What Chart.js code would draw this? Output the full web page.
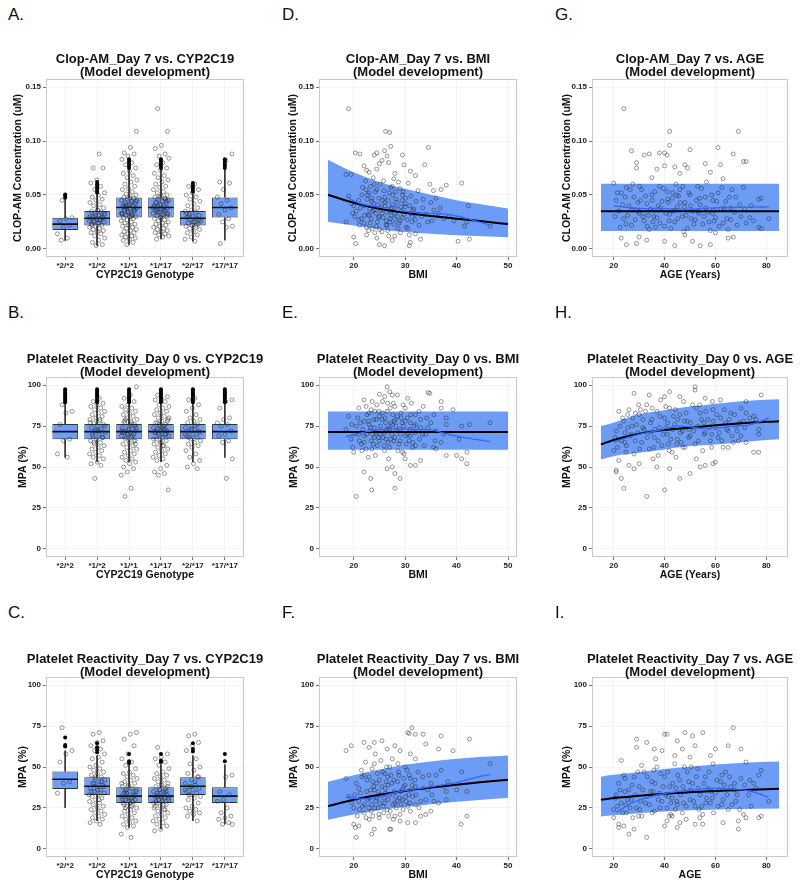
<!DOCTYPE html>
<html>
<head>
<meta charset="utf-8">
<script src="https://cdn.jsdelivr.net/npm/chart.js@4.4.0/dist/chart.umd.min.js"></script>
<style>
  body { margin: 0; background: #fff; width: 800px; height: 889px; position: relative; overflow: hidden;
         font-family: "Liberation Sans", Arial, sans-serif; }
  canvas { position: absolute; }
  .lbl { position: absolute; font-size: 17px; line-height: 17px; color: #111; }
  .ttl { position: absolute; width: 300px; text-align: center; font-weight: bold; font-size: 13px; line-height: 13px; color: #111; }
</style>
</head>
<body>
<script>
// --- Categorias y ticks ---
const genotypes = ['*2/*2', '*1/*2', '*1/*1', '*1/*17', '*2/*17', '*17/*17'];
const clopTicks = [0, 0.05, 0.10, 0.15];
const mpaTicks = [0, 25, 50, 75, 100];
const bmiTicks = [20, 30, 40, 50];
const ageTicks = [20, 40, 60, 80];

// --- A. Clop-AM vs CYP2C19 (cajas) ---
const clopQ1 = [0.0176, 0.0216, 0.0290, 0.0290, 0.0216, 0.0290];
const clopMed = [0.0230, 0.0284, 0.0384, 0.0384, 0.0284, 0.0384];
const clopQ3 = [0.0288, 0.0352, 0.0477, 0.0477, 0.0352, 0.0477];
const clopLo = [0.0075, 0.003, 0.004, 0.009, 0.007, 0.008];
const clopHi = [0.046, 0.051, 0.074, 0.074, 0.051, 0.074];
const clopOut = [
  [0.0505, 0.049, 0.0475],
  [0.062, 0.060, 0.058, 0.056, 0.054, 0.052],
  [0.083, 0.081, 0.079, 0.077, 0.075],
  [0.083, 0.081, 0.079, 0.077, 0.075],
  [0.061, 0.059, 0.057, 0.055, 0.053],
  [0.083, 0.081, 0.079, 0.077, 0.075]
];
const clopJit = [
  [.045, .029, .028, .026, .022, .020, .014, .010, .008],
  [.088, .075, .075, .064, .061, .058, .055, .052, .050, .048, .046, .045, .043, .041, .040, .038, .036, .035, .034, .033, .032, .031, .030, .029, .028, .028, .027, .026, .025, .024, .023, .022, .021, .020, .019, .018, .017, .016, .015, .014, .012, .010, .008, .006, .004, .003,
   .030, .027, .025, .033, .036, .022, .029, .031, .026, .024],
  [.109, .094, .089, .088, .086, .083, .080, .078, .075, .072, .070, .068, .066, .064, .062, .060, .058, .056, .055, .053, .051, .050, .049, .048, .047, .046, .045, .044, .043, .042, .041, .040, .040, .039, .038, .037, .036, .035, .034, .033, .032, .031, .030, .030, .029, .028, .027, .026, .025, .024, .023, .022, .021, .020, .019, .018, .017, .016, .015, .014, .013, .012, .011, .010, .009, .008, .006, .004,
   .045, .042, .038, .036, .034, .032, .031, .041, .044, .047, .039, .037, .035, .033, .030],
  [.130, .109, .096, .093, .088, .086, .084, .080, .078, .075, .073, .070, .068, .066, .064, .062, .060, .058, .057, .055, .053, .052, .050, .049, .048, .047, .046, .045, .044, .043, .042, .041, .040, .039, .039, .038, .037, .036, .035, .034, .033, .032, .031, .030, .029, .028, .027, .026, .025, .024, .023, .022, .021, .020, .019, .018, .017, .016, .015, .014, .013, .012, .011, .009,
   .044, .041, .039, .036, .034, .032, .031, .043, .046, .048, .038, .037, .035, .033, .029],
  [.060, .058, .055, .052, .050, .048, .046, .044, .042, .040, .038, .036, .035, .034, .032, .031, .030, .029, .028, .027, .026, .025, .024, .023, .022, .021, .020, .019, .018, .016, .015, .013, .011, .009, .007,
   .030, .027, .025, .033, .022],
  [.088, .082, .062, .061, .055, .048, .045, .042, .038, .036, .032, .028, .025, .021, .020, .005]
];

// --- B. MPA dia 0 vs CYP2C19 ---
const mpa0Q1 = [66.9, 66.9, 66.9, 66.9, 66.9, 66.9];
const mpa0Med = [71.6, 71.6, 71.6, 71.6, 71.6, 71.6];
const mpa0Q3 = [76.3, 76.3, 76.3, 76.3, 76.3, 76.3];
const mpa0Lo = [55.8, 53, 53, 53, 53, 55.8];
const mpa0Hi = [88.5, 88.5, 88.5, 88.5, 88.5, 88.5];
const mpa0OutVals = [97.5, 96.5, 95.5, 94.5, 93.5, 92.5, 91.5, 90.5, 89.5];
const mpa0Jit = [
  [88, 84, 83, 76, 67, 66, 58, 56],
  [92, 90, 89, 88, 87, 86, 85, 84, 83, 82, 81, 80, 79, 78, 77, 76, 75, 74, 73, 72, 71, 70, 69, 68, 67, 66, 65, 64, 63, 62, 61, 60, 59, 58, 57, 56, 55, 53, 52, 51, 43,
   75, 72, 70, 68, 73, 77, 79, 65],
  [99, 94, 92, 90, 88, 87, 86, 85, 84, 83, 82, 81, 80, 79, 78, 77, 76, 75, 74, 73, 72, 72, 71, 71, 70, 70, 69, 68, 67, 66, 65, 64, 63, 62, 61, 60, 59, 58, 57, 56, 55, 54, 53, 52, 50, 49, 47, 45, 37, 32,
   75, 73, 71, 69, 68, 74, 76, 78, 66, 70, 72, 77, 79, 64],
  [94, 93, 92, 91, 90, 88, 87, 86, 85, 84, 83, 82, 81, 80, 79, 78, 77, 76, 75, 74, 73, 73, 72, 72, 71, 70, 70, 69, 68, 67, 66, 65, 64, 63, 62, 61, 60, 59, 58, 57, 56, 55, 54, 51, 49, 47, 46, 45, 36,
   74, 72, 70, 69, 67, 75, 77, 78, 65, 71, 73, 76, 80, 63],
  [92, 91, 88, 86, 84, 82, 80, 79, 78, 77, 76, 75, 74, 73, 72, 71, 70, 69, 68, 67, 66, 65, 64, 63, 62, 60, 58, 56, 54, 52, 50, 49,
   73, 70, 75, 68, 72],
  [91, 90, 86, 80, 79, 77, 76, 75, 72, 70, 69, 66, 65, 55, 43]
];

// --- C. MPA dia 7 vs CYP2C19 ---
const mpa7Q1 = [36.6, 32.9, 28.0, 28.0, 32.9, 28.0];
const mpa7Med = [42.5, 38.2, 32.2, 32.2, 38.2, 32.2];
const mpa7Q3 = [47.3, 43.7, 37.6, 37.6, 43.7, 37.6];
const mpa7Lo = [25, 17, 13, 12, 17, 15];
const mpa7Hi = [60, 57, 51.5, 51.5, 57, 51.5];
const mpa7Out = [
  [68, 63.5, 62.5],
  [64.5, 62, 60.5, 59],
  [58, 53.5, 52.5],
  [58, 54, 53],
  [64.5, 61, 59.5],
  [58, 53.5]
];
const mpa7Jit = [
  [74, 60, 58, 53, 41, 40, 34],
  [71, 70, 66, 65, 63, 61, 60, 58, 56, 55, 53, 51, 50, 49, 48, 47, 46, 45, 44, 43, 42, 41, 40, 39, 38, 37, 36, 35, 34, 33, 32, 31, 30, 29, 28, 27, 26, 25, 24, 23, 22, 21, 20, 19, 18, 17, 16, 15,
   40, 38, 36, 35, 41, 44, 33, 30],
  [71, 70, 67, 63, 58, 55, 53, 51, 49, 47, 46, 45, 44, 43, 42, 41, 40, 39, 38, 37, 36, 35, 35, 34, 33, 32, 32, 31, 30, 30, 29, 28, 27, 26, 25, 24, 23, 22, 21, 20, 19, 18, 17, 16, 15, 14, 13, 9, 7,
   35, 33, 31, 30, 29, 34, 36, 28, 27, 32, 38, 40, 26, 25],
  [62, 58, 56, 55, 53, 51, 49, 47, 46, 45, 44, 43, 42, 41, 40, 39, 38, 37, 36, 35, 35, 34, 33, 32, 32, 31, 30, 30, 29, 28, 27, 26, 25, 24, 23, 22, 21, 20, 19, 18, 17, 16, 15, 14, 12, 11,
   34, 33, 31, 30, 29, 35, 36, 28, 27, 32, 38, 39, 26, 24],
  [70, 69, 65, 63, 60, 55, 52, 50, 48, 46, 44, 42, 40, 39, 38, 37, 36, 35, 34, 33, 32, 31, 30, 28, 26, 25, 24, 23, 22, 21, 20, 17,
   38, 36, 41, 33, 44],
  [45, 44, 35, 33, 30, 29, 25, 22, 20, 19, 18, 16, 15, 15]
];

// --- D. Clop-AM vs BMI ---
const ptsD = [
  [19, .130], [26.2, .109], [27, .108], [27.2, .095], [26, .091], [24.5, .089], [24, .087], [20.3, .089], [21.2, .088], [29.5, .087], [34.5, .094],
  [25.5, .082], [26.5, .086], [25, .079], [26.8, .080], [22, .077], [22.5, .073], [29.8, .078], [33.8, .078], [31, .072], [28, .070], [32, .068], [23, .071], [24.5, .074], [19.5, .069], [18.5, .069],
  [41, .061], [42.3, .040], [40.3, .007], [42.5, .009], [46.5, .021], [38, .059], [37, .055], [36, .047], [39.5, .026], [41.5, .021], [42, .025], [36.5, .033], [38.5, .030], [35.5, .054], [34.8, .060],
  [20.4, .005], [25, .004], [26, .003], [30.8, .003], [31, .006], [27.5, .008], [22.5, .013], [24.5, .010], [20, .011], [33, .009], [28, .012], [32, .014],
  [21, .045], [22, .040], [23, .052], [24, .036], [25, .030], [26, .048], [27, .025], [28, .038], [29, .056], [30, .042], [31, .033], [32, .027],
  [21.5, .028], [22.5, .020], [23.5, .044], [24.5, .055], [25.5, .033], [26.5, .022], [27.5, .041], [28.5, .030], [29.5, .050], [30.5, .019], [31.5, .036],
  [20.5, .035], [22, .024], [23, .031], [24, .060], [25, .018], [26, .043], [27, .035], [28, .028], [29, .026], [30, .039],
  [23.5, .047], [25.5, .016], [27.5, .058], [29.5, .029], [33.5, .046], [34, .032], [35, .043], [18.5, .025], [19, .049], [20, .040], [21, .027], [22.8, .032], [26.3, .022], [28.7, .062], [30.2, .020], [31.7, .037], [24.2, .053],
  [22.3, .063], [23.8, .066], [25.8, .063], [27.8, .065], [30.6, .061], [32.5, .054], [21.7, .057], [26.9, .052], [24.7, .041], [28.2, .046], [23.2, .024], [25.3, .039], [27.3, .031], [29.3, .035], [31.3, .025], [33.2, .030], [35.2, .026], [36.8, .038], [19.8, .033], [22.7, .050],
  [21.3, .038], [22.1, .031], [22.6, .046], [23.1, .037], [23.4, .028], [23.9, .042], [24.3, .033], [24.6, .025], [24.9, .047], [25.2, .036], [25.7, .029], [26.1, .040], [26.4, .034], [26.7, .045], [27.1, .028], [27.4, .038], [27.9, .033], [28.4, .043], [28.8, .024], [29.2, .039], [29.7, .032], [30.1, .047], [30.4, .027], [30.9, .040], [31.4, .030], [32.1, .044], [32.7, .022], [33.4, .038],
  [21.6, .050], [22.4, .055], [23.6, .019], [24.4, .021], [25.9, .054], [26.6, .017], [27.6, .050], [28.6, .019], [29.6, .053], [31.1, .049], [21.1, .022], [20.2, .030], [19.6, .042], [34.4, .025], [35.6, .036], [37.5, .028],
  [23.3, .058], [25.1, .060], [27.2, .057], [29.1, .015], [26.8, .012], [24.1, .015], [22.9, .017], [30.8, .013], [28.1, .053], [24.8, .029], [26.3, .026], [23.7, .035], [25.6, .045], [27.8, .023], [29.4, .045], [31.9, .032]
];
const bmiGrid = [15, 20, 25, 30, 35, 40, 45, 50];
const dFit = [.0502, .0428, .0372, .0335, .0304, .0280, .0256, .0230];
const dHi = [.0827, .0710, .0620, .0557, .0502, .0452, .0412, .0374];
const dLo = [.0251, .0216, .0181, .0156, .0140, .0126, .0117, .0109];
const dLoess = [[18.5, .049], [20, .0445], [22, .041], [24, .0395], [26, .038], [28, .0392], [30, .0348], [32, .0338], [35, .033], [38, .0322], [40, .0305], [42, .0283], [44, .0255], [46.5, .022]];

// --- G. Clop-AM vs AGE ---
const ptsG = [
  [24, .130], [42, .109], [69, .109], [42, .096], [61, .094], [50, .092], [27, .091], [67, .088], [38, .089], [40, .089], [34, .088], [41, .087], [32, .087], [29, .080], [71, .081], [72, .081], [56, .079], [62, .078], [48, .078], [40, .077], [44, .076], [49, .075], [37, .074], [29, .075], [58, .071], [63, .065], [35, .066], [46, .070],
  [25, .004], [29, .005], [44, .003], [54, .003], [58, .004], [40, .007], [33, .008], [51, .007], [65, .010], [67, .011], [23, .010], [48, .013], [30, .011], [78, .019], [77, .020], [81, .028], [75, .026], [74, .040], [77, .046], [78, .047], [71, .057], [68, .048], [66, .038], [70, .030], [72, .024], [65, .018], [60, .015],
  [20, .061], [21, .045], [22, .035], [23, .052], [24, .028], [25, .057], [26, .040], [27, .022], [28, .048], [30, .033], [31, .055], [32, .026], [33, .042], [34, .018], [35, .050], [36, .036], [37, .029], [38, .058], [39, .044], [40, .021], [41, .053], [42, .032], [43, .047], [44, .025], [45, .039], [46, .055], [47, .030], [48, .043], [49, .019], [50, .050], [51, .035], [52, .027], [53, .058], [54, .041], [55, .023], [56, .048], [57, .034], [58, .017], [59, .045], [60, .029], [61, .052], [62, .037], [63, .024], [64, .044], [66, .027],
  [27.5, .060], [30.5, .045], [35.5, .025], [38.5, .038], [41.5, .043], [44.5, .060], [47.5, .016], [50.5, .028], [53.5, .033], [56.5, .062], [59.5, .026], [43.5, .035], [36.5, .020], [33.5, .031], [45.5, .049],
  [20.5, .030], [21.5, .052], [22.5, .020], [23.5, .041], [24.5, .048], [25.5, .031], [26.5, .055], [27.2, .036], [28.5, .027], [29.5, .043], [30.2, .058], [31.5, .030], [32.5, .049], [33.2, .021], [34.5, .037], [35.2, .045], [36.2, .053], [37.5, .040], [38.2, .024], [39.5, .056],
  [40.5, .033], [41.2, .046], [42.5, .019], [43.2, .052], [44.2, .036], [45.2, .028], [46.2, .043], [47.2, .058], [48.5, .031], [49.5, .052], [50.2, .040], [51.5, .023], [52.5, .045], [53.2, .035], [54.5, .056], [55.5, .030], [56.2, .038], [57.5, .025], [58.5, .050], [59.2, .036],
  [60.5, .044], [61.5, .021], [62.5, .057], [63.5, .038], [64.5, .028], [65.5, .048], [66.5, .055], [67.5, .034], [68.5, .022], [69.5, .041], [71.5, .037], [73.5, .029], [35.8, .030], [41.8, .026], [47.8, .039], [53.8, .047], [29.8, .035], [24.8, .023], [58.8, .033], [44.8, .050]
];
const ageGrid = [15, 20, 30, 40, 50, 60, 70, 85];
const gFit = [.0349, .0349, .0349, .0349, .0349, .0349, .0349, .0349];
const gHi = [.0603, .0603, .0603, .0603, .0603, .0603, .0603, .0603];
const gLo = [.0165, .0165, .0165, .0165, .0165, .0165, .0165, .0165];
const gLoess = [[20, .0398], [25, .0385], [30, .0375], [35, .0372], [40, .0373], [45, .0368], [50, .0368], [55, .0375], [60, .0380], [65, .0383], [70, .0385], [75, .0387], [81, .0389]];

// --- E. MPA dia 0 vs BMI ---
const ptsE = [
  [20.5, 32], [23.5, 36], [28, 37], [23.3, 43], [29, 43], [26.5, 49], [27.5, 50], [22, 47], [28, 46], [26.5, 99], [27, 96], [34.5, 95.5], [34.8, 95], [25, 94.5], [28.5, 94], [26, 93], [27.5, 94], [30.5, 92], [22, 91], [37, 90], [37, 86], [39.3, 85], [33.5, 87], [46.5, 77], [42.5, 76], [41, 75], [40.5, 67], [42, 59], [40, 57], [41, 55], [42, 52], [38, 57], [36, 61], [35.5, 62], [31, 51], [32, 51], [33, 54], [30, 55], [37, 65], [38, 76], [38, 80],
  [19, 81], [18.5, 73], [19.5, 67], [20, 59], [20.5, 75], [21, 86], [21.5, 64], [22, 78], [22.5, 70], [23, 83], [23.5, 61], [24, 74], [24.5, 88], [25, 66], [25.5, 79], [26, 71], [26.5, 84], [27, 62], [27.5, 76], [28, 68], [28.5, 81], [29, 73], [29.5, 59], [30, 86], [30.5, 70], [31, 77], [31.5, 65], [32, 82], [32.5, 72], [33, 79],
  [21, 70], [22, 65], [23, 76], [24, 68], [25, 81], [26, 60], [27, 73], [28, 87], [29, 66], [30, 78], [31, 69], [32, 63], [33, 74], [34, 70], [35, 77], [36, 72], [24.2, 57], [26.8, 55], [22.8, 56], [29.8, 58], [25.6, 90], [23.4, 85], [31.2, 89], [27.7, 89],
  [20.8, 80], [21.8, 73], [23.8, 64], [25.2, 72], [26.2, 77], [27.2, 67], [28.2, 75], [29.2, 80], [30.2, 64], [31.7, 75], [32.8, 67], [34.2, 80], [35.8, 66], [33.7, 63], [19.8, 62], [22.4, 61],
  [21.3, 77], [22.1, 69], [22.6, 82], [23.1, 72], [23.4, 66], [23.9, 79], [24.3, 71], [24.6, 63], [24.9, 84], [25.2, 75], [25.7, 68], [26.1, 80], [26.4, 73], [26.7, 65], [27.1, 86], [27.4, 70], [27.9, 78], [28.4, 72], [28.8, 64], [29.2, 83], [29.7, 75], [30.1, 69], [30.4, 80], [30.9, 73], [31.4, 62], [32.1, 76], [32.7, 84], [33.4, 70],
  [21.6, 60], [22.4, 87], [23.6, 90], [24.4, 79], [25.9, 63], [26.6, 89], [27.6, 82], [28.6, 60], [29.6, 88], [31.1, 82], [21.1, 66], [20.2, 70], [19.6, 76], [34.4, 74], [35.6, 82], [37.5, 70],
  [23.3, 74], [25.1, 70], [27.2, 77], [29.1, 70], [26.8, 74], [24.1, 84], [22.9, 78], [30.8, 66], [28.1, 79], [24.8, 68], [26.3, 67], [23.7, 70], [25.6, 83], [27.8, 66], [29.4, 77], [31.9, 71]
];
const eFit = [71.4, 71.4, 71.4, 71.4, 71.4, 71.4, 71.4, 71.4];
const eHi = [83.9, 83.9, 83.9, 83.9, 83.9, 83.9, 83.9, 83.9];
const eLo = [60.6, 60.6, 60.6, 60.6, 60.6, 60.6, 60.6, 60.6];
const eLoess = [[18.5, 68.6], [20, 69.8], [22, 71.2], [25, 72.9], [28, 73.3], [30, 73.1], [33, 72.9], [35, 72.7], [37, 71.2], [40, 68.8], [43, 67.2], [46.5, 65.5]];

// --- H. MPA dia 0 vs AGE ---
const ptsH = [
  [33, 32], [40, 36], [24, 37], [23, 43], [46, 43], [21, 47], [21, 48], [37, 50], [42, 49], [28, 49], [50, 46], [52, 99], [52, 97], [42, 96], [28, 95], [34, 94], [46, 93], [56, 92], [62, 91], [40, 93], [72, 90], [78, 94], [75, 59], [77, 59], [77, 70], [77, 73], [75, 81], [76, 79], [72, 83], [70, 86], [67, 65], [69, 66], [72, 65], [65, 62], [60, 53], [59, 52], [56, 51], [54, 50], [30, 52], [26, 51], [22, 54],
  [20, 60], [21, 72], [22, 84], [23, 66], [24, 78], [25, 63], [26, 85], [27, 70], [28, 58], [29, 76], [30, 82], [31, 65], [32, 73], [33, 88], [34, 61], [35, 79], [36, 68], [37, 84], [38, 74], [39, 63], [40, 80], [41, 70], [42, 86], [43, 59], [44, 76], [45, 67], [46, 82], [47, 72], [48, 62], [49, 78], [50, 69], [51, 88], [52, 64], [53, 75], [54, 83], [55, 60], [56, 71], [57, 79], [58, 66], [59, 85], [60, 74], [61, 68], [62, 80], [63, 62], [64, 77], [65, 72], [66, 83], [68, 75], [70, 69], [71, 78],
  [25.5, 74], [28.5, 66], [31.5, 79], [34.5, 71], [37.5, 57], [40.5, 74], [43.5, 81], [46.5, 65], [49.5, 73], [52.5, 55], [55.5, 77], [58.5, 70], [44.5, 56], [35.5, 55], [47.5, 90], [38.5, 91], [30.5, 85], [27.5, 80], [24.5, 71], [41.5, 64],
  [20.5, 68], [21.5, 62], [22.5, 75], [23.5, 80], [24.5, 65], [25.5, 82], [26.5, 69], [27.2, 75], [28.5, 83], [29.5, 71], [30.2, 61], [31.5, 74], [32.5, 84], [33.2, 68], [34.5, 77], [35.2, 86], [36.2, 73], [37.5, 66], [38.2, 81], [39.5, 70],
  [40.5, 87], [41.2, 77], [42.5, 67], [43.2, 73], [44.2, 85], [45.2, 79], [46.2, 71], [47.2, 62], [48.5, 83], [49.5, 68], [50.2, 77], [51.5, 72], [52.5, 86], [53.2, 66], [54.5, 79], [55.5, 70], [56.2, 84], [57.5, 74], [58.5, 62], [59.2, 78],
  [60.5, 82], [61.5, 71], [62.5, 66], [63.5, 85], [64.5, 73], [65.5, 79], [66.5, 69], [67.5, 82], [68.5, 72], [69.5, 77], [71.5, 74], [73.5, 80], [35.8, 62], [41.8, 60], [47.8, 78], [53.8, 88], [29.8, 88], [24.8, 59], [58.8, 90], [44.8, 64]
];
const hFit = [63.8, 66.5, 70.4, 72.6, 74.0, 75.5, 76.7, 78.0];
const hHi = [75.0, 77.1, 82.2, 84.7, 86.9, 88.7, 90.2, 91.4];
const hLo = [54.6, 56.6, 58.7, 60.7, 62.8, 63.8, 65.2, 66.9];
const hLoess = [[20, 65], [23.5, 67], [30, 70], [36.5, 72], [42, 74], [46, 75], [49.5, 74.7], [55, 73.5], [62, 74], [67, 75], [72.7, 75.5], [77, 77.5], [81, 80]];

// --- F. MPA dia 7 vs BMI ---
const ptsF = [
  [31.3, 74], [30.5, 71], [30.8, 70.5], [32, 70], [33.5, 70], [37, 69], [42.5, 67], [28, 63], [34, 64], [36.5, 61], [39.3, 60], [46.5, 52], [41, 47], [40, 36], [38, 35], [38, 30], [40.9, 15], [42, 20], [42, 35], [20.5, 7], [23.5, 9], [20, 15], [21, 14], [20.3, 13], [24, 12], [27, 12], [27.2, 12], [19.5, 63], [22, 65], [23, 62], [24, 65], [25.5, 66], [18.5, 60], [18.5, 43], [32, 16], [30.5, 16], [29, 17], [33, 20], [34, 21], [35, 23], [26.5, 61], [29, 60], [31, 58], [32, 55], [36, 45], [37, 48], [35, 40], [34, 30],
  [19, 32], [20, 25], [20.5, 40], [21, 29], [21.5, 48], [22, 22], [22.5, 35], [23, 44], [23.5, 27], [24, 52], [24.5, 31], [25, 19], [25.5, 38], [26, 46], [26.5, 24], [27, 33], [27.5, 55], [28, 28], [28.5, 41], [29, 21], [29.5, 36], [30, 50], [30.5, 26], [31, 43], [31.5, 32], [32, 38], [32.5, 47], [33, 29],
  [21, 37], [22, 45], [23, 18], [24, 36], [25, 42], [26, 28], [27, 50], [28, 20], [29, 31], [30, 39], [31, 23], [32, 27], [22.7, 30], [24.7, 25], [26.7, 39], [28.7, 47], [30.7, 33], [25.3, 54], [27.7, 18], [23.7, 41], [21.7, 26], [29.7, 43], [24.2, 58], [26.2, 34], [28.3, 25], [30.2, 29], [33.5, 37], [35.2, 33], [36.5, 28], [38.3, 41], [34.6, 45], [22.3, 53], [20.7, 20], [25.8, 22],
  [21.3, 34], [22.1, 27], [22.6, 42], [23.1, 31], [23.4, 23], [23.9, 38], [24.3, 29], [24.6, 46], [24.9, 21], [25.2, 33], [25.7, 26], [26.1, 37], [26.4, 50], [26.7, 30], [27.1, 23], [27.4, 40], [27.9, 35], [28.4, 29], [28.8, 45], [29.2, 27], [29.7, 38], [30.1, 32], [30.4, 48], [30.9, 28], [31.4, 39], [32.1, 33], [32.7, 25], [33.4, 44],
  [21.6, 44], [22.4, 19], [23.6, 49], [24.4, 40], [25.9, 31], [26.6, 44], [27.6, 27], [28.6, 52], [29.6, 24], [31.1, 36], [21.1, 24], [20.2, 33], [19.6, 28], [34.4, 36], [35.6, 29], [37.5, 38],
  [23.3, 36], [25.1, 28], [27.2, 45], [29.1, 35], [26.8, 20], [24.1, 25], [22.9, 25], [30.8, 45], [28.1, 32], [24.8, 35], [26.3, 41], [23.7, 20], [25.6, 47], [27.8, 42], [29.4, 30], [31.9, 42]
];
const fFit = [26.1, 30.0, 33.0, 35.4, 37.4, 39.2, 40.8, 42.2];
const fHi = [41.0, 45.0, 48.5, 51.3, 53.3, 55.0, 56.2, 57.1];
const fLo = [17.8, 21.0, 23.5, 25.5, 27.3, 28.8, 30.0, 31.0];
const fLoess = [[18.5, 32], [21, 30.5], [24, 31], [27, 33.5], [30, 35.5], [33, 37], [36, 38.5], [40, 40.5], [43, 43], [46.5, 45.5]];

// --- I. MPA dia 7 vs AGE ---
const ptsI = [
  [67, 74], [40, 70], [41, 70], [48, 71], [55, 71], [51, 69], [29, 67], [29, 62], [33, 65], [45, 66], [52, 63], [65, 63], [70, 61], [23, 54], [31, 51], [69, 12], [69, 17], [33, 7], [26, 9], [28, 12], [22, 13], [22, 15], [24, 14], [20, 19], [71, 21], [72, 19], [77, 19], [78, 20], [81, 29], [78, 48], [77, 45], [75, 40], [72, 53], [63, 16], [55, 15], [52, 15], [45, 13], [46, 16], [41, 17], [43, 20], [40, 14], [60, 61], [58, 57], [47, 61], [39, 60], [36, 61],
  [20, 24], [21, 33], [22, 40], [23, 28], [24, 45], [25, 22], [26, 36], [27, 30], [28, 44], [29, 25], [30, 38], [31, 20], [32, 47], [33, 32], [34, 27], [35, 41], [36, 23], [37, 50], [38, 34], [39, 29], [40, 44], [41, 25], [42, 38], [43, 31], [44, 52], [45, 27], [46, 42], [47, 22], [48, 35], [49, 47], [50, 30], [51, 40], [52, 26], [53, 49], [54, 33], [55, 21], [56, 44], [57, 37], [58, 28], [59, 52], [60, 34], [61, 26], [62, 41], [63, 30], [64, 47], [65, 24], [66, 38], [68, 29], [70, 43], [73, 33], [74, 26], [76, 37],
  [24.5, 35], [27.5, 19], [30.5, 29], [35.5, 35], [38.5, 46], [41.5, 32], [44.5, 37], [47.5, 28], [50.5, 50], [53.5, 24], [56.5, 31], [62.5, 45], [67.5, 36], [42.5, 21], [48.5, 18], [36.5, 55], [44, 57], [50, 56],
  [20.5, 31], [21.5, 26], [22.5, 36], [23.5, 22], [24.5, 43], [25.5, 30], [26.5, 25], [27.2, 39], [28.5, 33], [29.5, 47], [30.2, 24], [31.5, 36], [32.5, 28], [33.2, 44], [34.5, 35], [35.2, 22], [36.2, 40], [37.5, 30], [38.2, 25], [39.5, 38],
  [40.5, 33], [41.2, 47], [42.5, 28], [43.2, 40], [44.2, 24], [45.2, 45], [46.2, 33], [47.2, 38], [48.5, 26], [49.5, 41], [50.2, 36], [51.5, 29], [52.5, 44], [53.2, 37], [54.5, 26], [55.5, 40], [56.2, 28], [57.5, 47], [58.5, 35], [59.2, 22],
  [60.5, 42], [61.5, 36], [62.5, 27], [63.5, 39], [64.5, 33], [65.5, 44], [66.5, 27], [67.5, 40], [68.5, 33], [69.5, 24], [71.5, 39], [73.5, 42], [35.8, 48], [41.8, 20], [47.8, 50], [53.8, 19], [29.8, 20], [24.8, 27], [58.8, 31], [44.8, 29]
];
const iFit = [30.0, 31.0, 32.5, 33.6, 34.6, 35.4, 36.0, 36.7];
const iHi = [44.1, 45.2, 47.0, 48.8, 50.2, 51.5, 52.5, 53.3];
const iLo = [19.8, 20.5, 21.8, 22.8, 23.5, 24.0, 24.4, 24.7];
const iLoess = [[21, 22.2], [26.2, 27.3], [30, 29.8], [35, 32], [39.2, 33.5], [45, 35], [52.2, 36.1], [60, 37.1], [67.9, 36.3], [72, 35.8], [75.6, 34.5], [80.8, 31.4]];

// --- Estilo y maquetacion ---
const FONT = '"Liberation Sans", Arial, sans-serif';
const TICK_FONT = { family: FONT, size: 8, weight: 'bold' };
const AXIS_FONT = { family: FONT, size: 10.5, weight: 'bold' };
const BOX_FILL = '#6E9EF7';
const BAND_FILL = '#6D9CF6';
const PT_EDGE = 'rgba(35,35,35,0.62)';
const BOX_W = 0.8, JIT = 0.25;
const GRID = { color: '#ececec', lineWidth: 0.6, tickColor: '#555', tickLength: 3, tickWidth: 0.8, offset: false };
const PAD_T = 8, PAD_R = 8, X_H = 26;

const COLS = [
  { canvasLeft: 0, L: 46, R: 244, letterX: 8 },
  { canvasLeft: 270, L: 319, R: 517, letterX: 282 },
  { canvasLeft: 540, L: 592, R: 788, letterX: 555 }
];
const ROWS = [
  { T: 79, B: 257, titleTop: 52, letterTop: 6 },
  { T: 377, B: 557, titleTop: 351.5, letterTop: 304 },
  { T: 677, B: 857, titleTop: 651.5, letterTop: 604 }
];

const fmtClop = (v) => v.toFixed(2);
const fmtInt = (v) => String(v);
const fmtGeno = (v) => genotypes[Math.round(v) - 1];
const xy = (arr) => arr.map(([x, y]) => ({ x, y }));
const onGrid = (grid, vals) => grid.map((x, i) => ({ x, y: vals[i] }));
const jitter = (i) => JIT * (((i * 0.618034 + 0.31) % 1) * 2 - 1);

const frame = {
  id: 'frame',
  beforeDatasetsDraw(chart) {
    const a = chart.chartArea, c = chart.ctx;
    c.save();
    c.strokeStyle = '#c9c9c9';
    c.lineWidth = 1;
    c.strokeRect(Math.round(a.left) + 0.5, Math.round(a.top) + 0.5, Math.round(a.width) - 1, Math.round(a.height) - 1);
    c.restore();
  }
};

function place(p) {
  const c = COLS[p.col], r = ROWS[p.row];
  const cv = document.createElement('canvas');
  cv.width = c.R - c.canvasLeft + PAD_R;
  cv.height = r.B - r.T + PAD_T + X_H;
  cv.style.left = c.canvasLeft + 'px';
  cv.style.top = (r.T - PAD_T) + 'px';
  document.body.appendChild(cv);

  const lt = document.createElement('div');
  lt.className = 'lbl';
  lt.textContent = p.letter + '.';
  lt.style.left = c.letterX + 'px';
  lt.style.top = r.letterTop + 'px';
  document.body.appendChild(lt);

  const tt = document.createElement('div');
  tt.className = 'ttl';
  tt.innerHTML = p.title.join('<br>');
  tt.style.left = ((c.L + c.R) / 2 - 150) + 'px';
  tt.style.top = r.titleTop + 'px';
  document.body.appendChild(tt);
  return cv;
}

function yAxis(p, lim, ticks, fmt, title) {
  const c = COLS[p.col];
  const yw = c.L - c.canvasLeft;
  return {
    type: 'linear', min: lim[0], max: lim[1],
    afterBuildTicks: (s) => { s.ticks = ticks.map((v) => ({ value: v })); },
    afterFit: (s) => { s.width = yw; },
    ticks: { font: TICK_FONT, color: '#222', padding: 2, callback: fmt },
    grid: GRID,
    border: { display: false },
    title: { display: true, text: title, font: AXIS_FONT, color: '#111', padding: { top: p.yTitleX - 6.3, bottom: 0 } }
  };
}

function xAxis(lim, ticks, fmt, title) {
  return {
    type: 'linear', min: lim[0], max: lim[1], offset: false,
    afterBuildTicks: (s) => { s.ticks = ticks.map((v) => ({ value: v })); },
    afterFit: (s) => { s.height = X_H; },
    ticks: { font: TICK_FONT, color: '#222', padding: 1, maxRotation: 0, autoSkip: false, callback: fmt },
    grid: GRID,
    border: { display: false },
    title: { display: true, text: title, font: AXIS_FONT, color: '#111', padding: { top: 0, bottom: 2 } }
  };
}

const baseOptions = (scales) => ({
  responsive: false,
  animation: false,
  events: [],
  layout: { padding: { top: PAD_T, right: PAD_R, left: 0, bottom: 0 } },
  plugins: { legend: { display: false }, tooltip: { enabled: false } },
  scales
});

function boxChart(p, st, yLim, yTicks, yFmt, yTitle) {
  const cv = place(p);
  const cats = genotypes.map((_, i) => i + 1);
  const boxes = cats.map((x, i) => ({ x, y: [st.q1[i], st.q3[i]] }));
  const whisk = [], meds = [], outs = [], pts = [];
  cats.forEach((x, i) => {
    whisk.push({ x, y: st.hi[i] }, { x, y: st.q3[i] }, { x, y: null }, { x, y: st.q1[i] }, { x, y: st.lo[i] }, { x, y: null });
    meds.push({ x: x - BOX_W / 2, y: st.med[i] }, { x: x + BOX_W / 2, y: st.med[i] }, { x, y: null });
    st.out[i].forEach((v) => outs.push({ x, y: v }));
    st.jit[i].forEach((v, k) => pts.push({ x: x + jitter(k + i * 7), y: v }));
  });
  return new Chart(cv, {
    type: 'bar',
    data: {
      datasets: [
        { type: 'scatter', data: pts, pointRadius: 2, borderWidth: 0.75, borderColor: PT_EDGE, backgroundColor: 'rgba(0,0,0,0)', order: 0 },
        { type: 'scatter', data: outs, pointRadius: 2, borderWidth: 0, backgroundColor: '#000', order: 1 },
        { type: 'line', data: meds, borderColor: '#111', borderWidth: 1.6, pointRadius: 0, spanGaps: false, order: 2 },
        { type: 'line', data: whisk, borderColor: '#333', borderWidth: 1, pointRadius: 0, spanGaps: false, order: 3 },
        { type: 'bar', data: boxes, backgroundColor: BOX_FILL, borderColor: '#333', borderWidth: 1, borderSkipped: false,
          barPercentage: BOX_W, categoryPercentage: 1, order: 4 }
      ]
    },
    options: baseOptions({
      x: xAxis([0.4, 6.6], cats, fmtGeno, 'CYP2C19 Genotype'),
      y: yAxis(p, yLim, yTicks, yFmt, yTitle)
    }),
    plugins: [frame]
  });
}

function scatterChart(p, pts, grid, fit, hi, lo, loess, xLim, xTicks, xTitle, yLim, yTicks, yFmt, yTitle) {
  const cv = place(p);
  const lineDs = (data, color, w, order) => ({ type: 'line', data, borderColor: color, borderWidth: w, pointRadius: 0,
    cubicInterpolationMode: 'monotone', fill: false, order });
  return new Chart(cv, {
    type: 'scatter',
    data: {
      datasets: [
        lineDs(xy(loess), '#3366FF', 1.3, 0),
        lineDs(onGrid(grid, fit), '#000', 2, 1),
        { data: xy(pts), pointRadius: 2, borderWidth: 0.75, borderColor: PT_EDGE, backgroundColor: 'rgba(0,0,0,0)', order: 2 },
        { ...lineDs(onGrid(grid, hi), 'rgba(0,0,0,0)', 0, 3), fill: '+1', backgroundColor: BAND_FILL },
        lineDs(onGrid(grid, lo), 'rgba(0,0,0,0)', 0, 3)
      ]
    },
    options: baseOptions({
      x: xAxis(xLim, xTicks, fmtInt, xTitle),
      y: yAxis(p, yLim, yTicks, yFmt, yTitle)
    }),
    plugins: [frame]
  });
}

const CLOP_LIM = [-0.0075, 0.1575], MPA_LIM = [-5, 105];
const BMI_LIM = [13.25, 51.75], AGE_LIM = [11.5, 88.5];
const CLOP_T = 'CLOP-AM Concentration (uM)', MPA_T = 'MPA (%)';
const SUB = '(Model development)';

boxChart({ letter: 'A', col: 0, row: 0, yTitleX: 18, title: ['Clop-AM_Day 7 vs. CYP2C19', SUB] },
  { q1: clopQ1, med: clopMed, q3: clopQ3, lo: clopLo, hi: clopHi, out: clopOut, jit: clopJit },
  CLOP_LIM, clopTicks, fmtClop, CLOP_T);
boxChart({ letter: 'B', col: 0, row: 1, yTitleX: 23, title: ['Platelet Reactivity_Day 0 vs. CYP2C19', SUB] },
  { q1: mpa0Q1, med: mpa0Med, q3: mpa0Q3, lo: mpa0Lo, hi: mpa0Hi, out: genotypes.map(() => mpa0OutVals), jit: mpa0Jit },
  MPA_LIM, mpaTicks, fmtInt, MPA_T);
boxChart({ letter: 'C', col: 0, row: 2, yTitleX: 23, title: ['Platelet Reactivity_Day 7 vs. CYP2C19', SUB] },
  { q1: mpa7Q1, med: mpa7Med, q3: mpa7Q3, lo: mpa7Lo, hi: mpa7Hi, out: mpa7Out, jit: mpa7Jit },
  MPA_LIM, mpaTicks, fmtInt, MPA_T);

scatterChart({ letter: 'D', col: 1, row: 0, yTitleX: 23, title: ['Clop-AM_Day 7 vs. BMI', SUB] },
  ptsD, bmiGrid, dFit, dHi, dLo, dLoess, BMI_LIM, bmiTicks, 'BMI', CLOP_LIM, clopTicks, fmtClop, CLOP_T);
scatterChart({ letter: 'E', col: 1, row: 1, yTitleX: 24, title: ['Platelet Reactivity_Day 0 vs. BMI', SUB] },
  ptsE, bmiGrid, eFit, eHi, eLo, eLoess, BMI_LIM, bmiTicks, 'BMI', MPA_LIM, mpaTicks, fmtInt, MPA_T);
scatterChart({ letter: 'F', col: 1, row: 2, yTitleX: 24, title: ['Platelet Reactivity_Day 7 vs. BMI', SUB] },
  ptsF, bmiGrid, fFit, fHi, fLo, fLoess, BMI_LIM, bmiTicks, 'BMI', MPA_LIM, mpaTicks, fmtInt, MPA_T);

scatterChart({ letter: 'G', col: 2, row: 0, yTitleX: 27, title: ['Clop-AM_Day 7 vs. AGE', SUB] },
  ptsG, ageGrid, gFit, gHi, gLo, gLoess, AGE_LIM, ageTicks, 'AGE (Years)', CLOP_LIM, clopTicks, fmtClop, CLOP_T);
scatterChart({ letter: 'H', col: 2, row: 1, yTitleX: 27, title: ['Platelet Reactivity_Day 0 vs. AGE', SUB] },
  ptsH, ageGrid, hFit, hHi, hLo, hLoess, AGE_LIM, ageTicks, 'AGE (Years)', MPA_LIM, mpaTicks, fmtInt, MPA_T);
scatterChart({ letter: 'I', col: 2, row: 2, yTitleX: 27, title: ['Platelet Reactivity_Day 7 vs. AGE', SUB] },
  ptsI, ageGrid, iFit, iHi, iLo, iLoess, AGE_LIM, ageTicks, 'AGE', MPA_LIM, mpaTicks, fmtInt, MPA_T);
</script>
</body>
</html>
